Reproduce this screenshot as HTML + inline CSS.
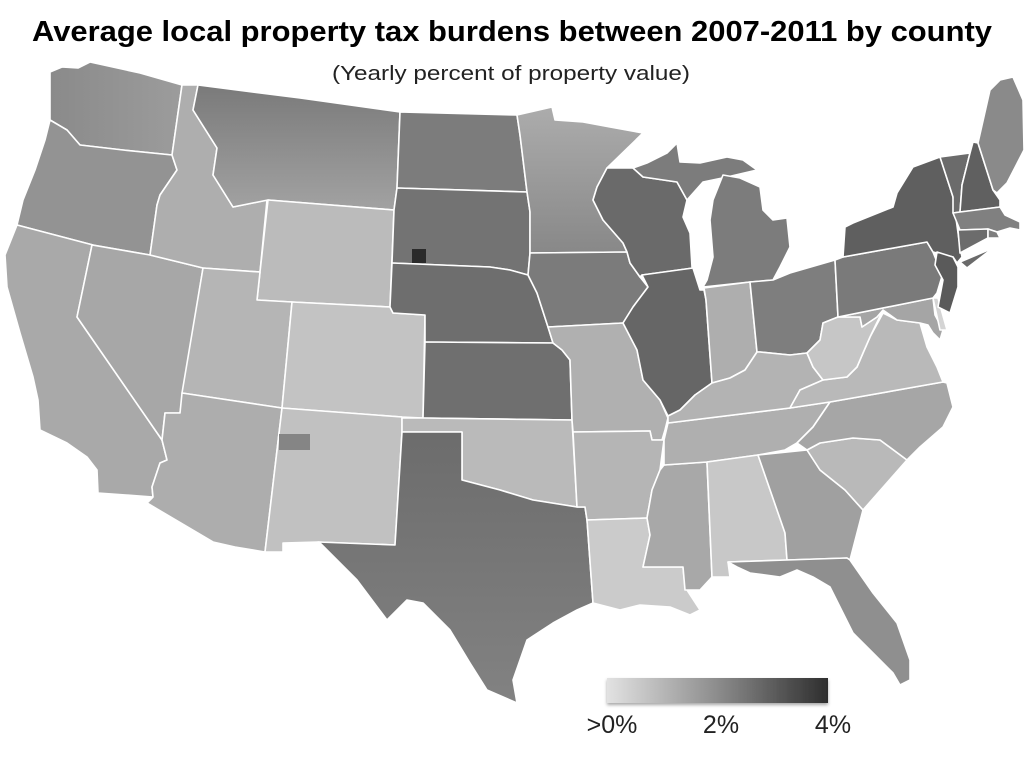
<!DOCTYPE html>
<html>
<head>
<meta charset="utf-8">
<style>
  html, body { margin: 0; padding: 0; background: #ffffff; }
  svg { display: block; }
</style>
</head>
<body>
<svg width="1024" height="768" viewBox="0 0 1024 768" xmlns="http://www.w3.org/2000/svg">
  <defs>
    <linearGradient id="lg" x1="0" y1="0" x2="1" y2="0">
      <stop offset="0" stop-color="#e2e2e2"/>
      <stop offset="0.5" stop-color="#8c8c8c"/>
      <stop offset="1" stop-color="#2e2e2e"/>
    </linearGradient>
    <linearGradient id="mt" x1="0" y1="0" x2="0" y2="1">
      <stop offset="0" stop-color="#7a7a7a"/>
      <stop offset="1" stop-color="#a2a2a2"/>
    </linearGradient>
    <linearGradient id="mn" x1="0" y1="0" x2="0" y2="1">
      <stop offset="0" stop-color="#acacac"/>
      <stop offset="1" stop-color="#888888"/>
    </linearGradient>
    <linearGradient id="tx" x1="0" y1="0" x2="0" y2="1">
      <stop offset="0" stop-color="#6c6c6c"/>
      <stop offset="1" stop-color="#828282"/>
    </linearGradient>
    <linearGradient id="wa" x1="0" y1="0" x2="1" y2="0">
      <stop offset="0" stop-color="#8a8a8a"/>
      <stop offset="1" stop-color="#9c9c9c"/>
    </linearGradient>
    <filter id="sh" x="-5%" y="-20%" width="110%" height="160%">
      <feDropShadow dx="0" dy="2" stdDeviation="1.5" flood-color="#000" flood-opacity="0.35"/>
    </filter>
  </defs>

  <!-- Title -->
  <text x="512" y="41" text-anchor="middle" font-family="Liberation Sans, Arial, sans-serif" font-weight="bold" font-size="29" fill="#000" textLength="960" lengthAdjust="spacingAndGlyphs">Average local property tax burdens between 2007-2011 by county</text>
  <text x="511" y="80" text-anchor="middle" font-family="Liberation Sans, Arial, sans-serif" font-size="20" fill="#222" textLength="358" lengthAdjust="spacingAndGlyphs">(Yearly percent of property value)</text>

  <g stroke="#ffffff" stroke-width="1.6" stroke-linejoin="round">
    <!-- West -->
    <polygon fill="url(#wa)" points="50,72 62,67 78,68 90,62 140,73 182,85 172,155 123,150 80,145 67,130 50,120"/>
    <polygon fill="#939393" points="50,120 67,130 80,145 123,150 172,155 177,170 160,195 157,205 150,255 93,245 17,225 23,200 35,170 45,140"/>
    <polygon fill="#a9a9a9" points="17,225 93,245 92,245 77,317 162,440 167,460 160,463 152,487 153,497 98,493 97,470 87,457 67,443 40,430 38,400 33,377 20,333 7,287 5,255"/>
    <polygon fill="#a7a7a7" points="92,245 150,255 203,268 183,393 180,413 165,413 162,440 77,317"/>
    <polygon fill="#aeaeae" points="182,85 198,85 193,110 217,148 213,175 233,207 267,200 260,272 203,268 150,255 157,205 160,195 177,170 172,155"/>
    <polygon fill="url(#mt)" points="198,85 300,98 400,112 397,188 394,210 268,200 233,207 213,175 217,148 193,110"/>
    <polygon fill="#bbbbbb" points="268,200 394,210 390,307 292,302 257,300 260,272"/>
    <polygon fill="#b5b5b5" points="203,268 260,272 257,300 292,302 282,408 182,393"/>
    <polygon fill="#c3c3c3" points="292,302 390,307 393,313 425,315 423,418 402,417 282,408"/>
    <polygon fill="#adadad" points="182,393 282,408 265,552 235,547 213,542 147,503 153,497 152,487 160,463 167,460 162,440 165,413 180,413"/>
    <polygon fill="#c1c1c1" points="282,408 402,417 402,432 395,545 318,542 283,543 283,552 265,552"/>

    <!-- Plains -->
    <polygon fill="#7c7c7c" points="400,112 517,115 520,135 527,192 397,188"/>
    <polygon fill="#737373" points="397,188 527,192 530,212 530,253 528,275 510,270 490,267 392,263 394,210"/>
    <polygon fill="#6e6e6e" points="392,263 490,267 510,270 528,275 537,293 548,327 553,343 425,342 425,315 393,313 390,307"/>
    <polygon fill="#6f6f6f" points="425,342 553,343 562,350 570,360 572,420 423,418"/>
    <polygon fill="#bababa" points="402,418 423,418 572,420 577,507 533,500 500,490 462,480 462,432 402,432"/>
    <polygon fill="url(#tx)" points="402,432 462,432 462,480 500,490 533,500 577,507 585,507 587,520 593,603 577,610 553,623 527,640 513,680 517,703 487,690 470,663 450,630 423,603 407,600 387,620 357,580 320,543 318,542 395,545"/>

    <!-- Upper Midwest -->
    <polygon fill="url(#mn)" points="517,115 552,107 555,120 583,122 610,127 643,133 607,168 597,187 593,200 603,220 623,243 627,252 530,253 530,212 527,192 520,135"/>
    <polygon fill="#7b7b7b" points="530,253 627,252 630,263 640,277 648,287 633,307 623,323 548,327 537,293 528,275"/>
    <polygon fill="#b0b0b0" points="548,327 623,323 637,350 643,380 660,400 668,418 665,430 662,440 652,440 650,431 573,432 572,420 570,360 562,350 553,343"/>
    <polygon fill="#6a6a6a" points="607,168 633,168 643,177 677,182 687,200 683,217 690,233 692,267 693,268 642,275 640,277 630,263 627,252 623,243 603,220 593,200 597,187"/>
    <polygon fill="#7c7c7c" points="633,168 647,163 667,153 677,143 680,162 700,163 727,157 743,160 757,170 727,177 703,182 687,200 677,182 643,177"/>
    <polygon fill="#7c7c7c" points="703,287 707,280 713,257 710,220 713,200 723,175 740,178 760,187 763,210 773,220 787,218 790,247 780,267 773,280 750,282"/>
    <polygon fill="#666666" points="642,275 693,268 700,290 704,290 706,300 712,383 695,395 680,410 668,416 660,400 643,380 637,350 623,323 633,307 648,287"/>
    <polygon fill="#aeaeae" points="704,288 750,282 757,352 745,370 730,378 712,383 706,300"/>
    <polygon fill="#7e7e7e" points="750,282 773,280 790,273 835,260 838,317 823,323 820,340 807,353 790,355 760,352 757,352"/>

    <!-- South central -->
    <polygon fill="#b5b5b5" points="573,432 650,431 652,440 664,440 660,470 652,490 647,518 587,520 585,507 577,507"/>
    <polygon fill="#cbcbcb" points="587,520 647,518 650,535 643,567 683,567 685,587 700,610 690,615 670,607 640,605 620,610 593,603"/>
    <polygon fill="#a8a8a8" points="664,465 707,462 712,577 700,590 685,590 683,567 643,567 650,535 647,518 652,490 660,470"/>
    <polygon fill="#afafaf" points="668,423 790,408 830,402 813,427 797,443 785,450 758,455 707,462 664,465 664,440"/>
    <polygon fill="#b3b3b3" points="668,423 668,416 680,410 695,395 712,383 730,378 745,370 757,352 760,352 790,355 807,353 813,367 823,380 800,390 790,408"/>

    <!-- Southeast -->
    <polygon fill="#c8c8c8" points="707,462 758,455 785,533 787,560 728,562 730,577 712,577"/>
    <polygon fill="#a0a0a0" points="758,455 807,450 820,470 845,490 863,510 850,560 847,558 787,560 785,533"/>
    <polygon fill="#b9b9b9" points="807,450 820,443 853,438 880,440 907,460 863,510 845,490 820,470"/>
    <polygon fill="#a6a6a6" points="830,402 943,382 947,383 953,407 943,427 920,447 907,460 880,440 853,438 820,443 807,450 797,443 813,427"/>
    <polygon fill="#8f8f8f" points="728,562 787,560 847,558 850,560 873,593 897,623 910,660 910,680 900,685 893,673 873,653 853,633 843,613 830,587 813,577 797,570 780,577 750,573 737,567"/>
    <polygon fill="#b9b9b9" points="790,408 800,390 823,380 847,377 857,367 863,353 870,337 883,313 897,320 920,323 927,347 937,367 943,382 830,402"/>
    <polygon fill="#c6c6c6" points="838,317 860,317 862,327 877,317 883,310 870,337 863,353 857,367 847,377 823,380 813,367 807,353 820,340 823,323"/>
    <polygon fill="#a5a5a5" points="838,317 933,298 935,315 943,330 940,340 933,333 928,325 920,323 897,320 883,310 877,317 862,327 860,317"/>
    <polygon fill="#d4d4d4" points="933,298 938,298 947,330 940,330"/>

    <!-- Northeast -->
    <polygon fill="#7a7a7a" points="835,260 843,257 927,242 933,252 937,262 943,273 937,293 933,298 838,317"/>
    <polygon fill="#5f5f5f" points="843,257 845,227 853,223 893,207 897,193 913,167 940,157 953,197 960,247 962,257 957,263 953,257 933,252 927,242"/>
    <polygon fill="#6a6a6a" points="960,262 993,248 967,268"/>
    <polygon fill="#5a5a5a" points="937,252 953,257 958,267 958,287 950,313 938,307 943,280 935,265"/>
    <polygon fill="#6b6b6b" points="940,157 970,153 962,185 960,212 953,213 953,197"/>
    <polygon fill="#606060" points="970,153 973,142 978,143 993,190 1000,200 1000,207 960,212 962,185"/>
    <polygon fill="#8a8a8a" points="978,143 990,90 1000,80 1013,77 1023,100 1024,150 1007,183 997,193 993,190"/>
    <polygon fill="#808080" points="953,213 960,212 1000,207 1005,215 1020,222 1020,230 1010,228 997,232 988,229 960,230"/>
    <polygon fill="#6c6c6c" points="958,230 988,229 988,238 960,253"/>
    <polygon fill="#7e7e7e" points="988,229 997,232 1000,238 988,238"/>
  </g>

  <!-- notable dark counties -->
  <rect x="412" y="249" width="14" height="14" fill="#2a2a2a"/>
  <rect x="279" y="434" width="31" height="16" fill="#858585"/>

  <!-- Legend -->
  <rect x="607" y="678" width="221" height="25" fill="url(#lg)" filter="url(#sh)"/>
  <g font-family="Liberation Sans, Arial, sans-serif" font-size="25" fill="#222">
    <text x="612" y="733" text-anchor="middle">&gt;0%</text>
    <text x="721" y="733" text-anchor="middle">2%</text>
    <text x="833" y="733" text-anchor="middle">4%</text>
  </g>
</svg>
</body>
</html>
